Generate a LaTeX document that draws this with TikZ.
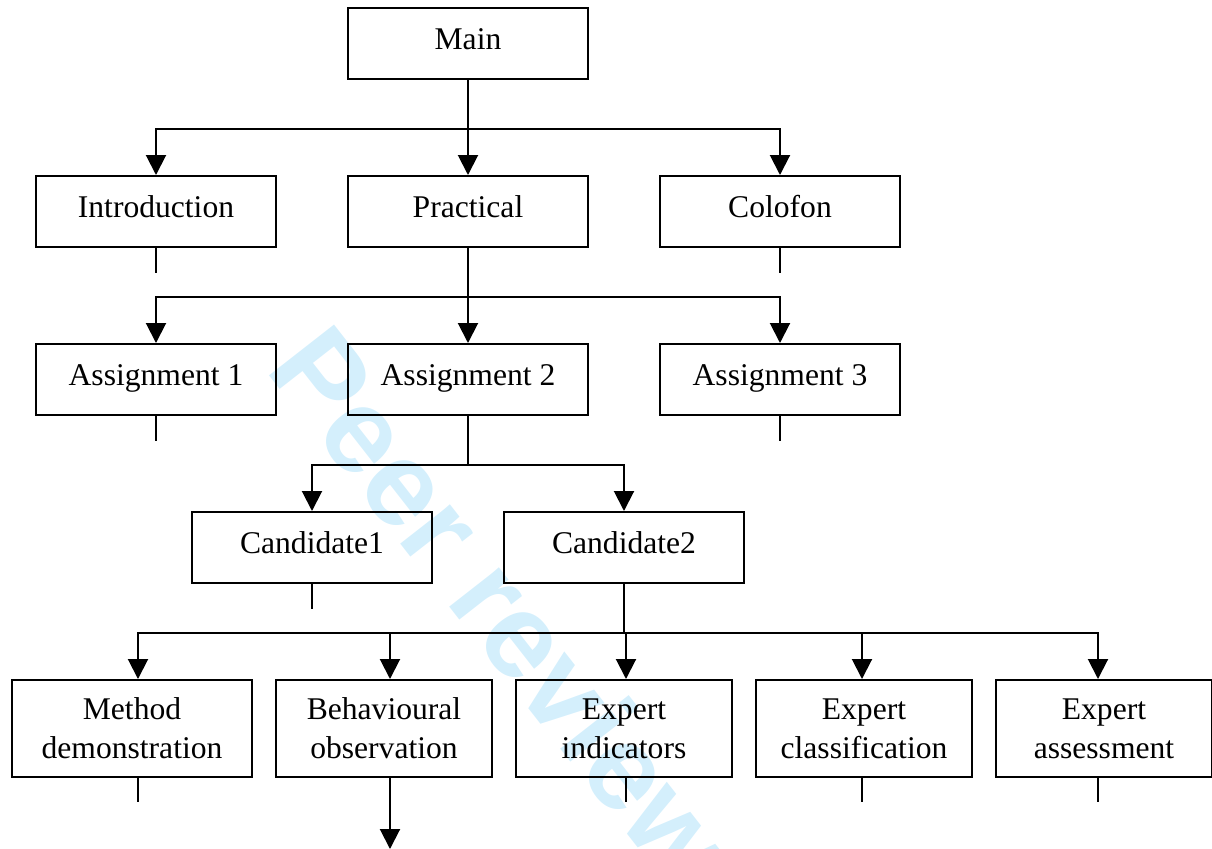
\documentclass[tikz,border=0pt]{standalone}
\usepackage{fontspec}
\setmainfont{Liberation Serif}
\newfontfamily\wmfont{Liberation Sans}
\usetikzlibrary{positioning,arrows.meta}

\definecolor{wmcyan}{RGB}{212,239,252}

\tikzset{
  box/.style={draw, line width=1pt, minimum width=120pt, minimum height=35.5pt,
    inner sep=0pt, text height=12pt, text depth=6pt,
    font=\fontsize{15.8pt}{19.5pt}\selectfont},
  leaf/.style={box, minimum width=108pt, minimum height=48.5pt, align=center,
    text height=30pt, text depth=0pt},
  link/.style={line width=1pt, -{Triangle[width=10pt,length=10pt]}},
  stub/.style={line width=1pt},
  wmark/.style={text=wmcyan, font=\wmfont\bfseries\fontsize{60pt}{60pt}\selectfont}
}

\begin{document}
\begin{tikzpicture}

    \useasboundingbox (0,0) rectangle (606pt,-424pt);

    % Watermark
    \node[wmark, rotate=-52, anchor=base west] (wm) at (130pt,-182pt) {Peer review};

    % Define nodes
    \node[box]                                   (main)  at (234pt,-21.75pt) {Main}; %
    \node[box, below=47.5pt of main]             (prac)  {Practical}; %
    \node[box, left=35pt of prac]                (intro) {Introduction}; %
    \node[box, right=35pt of prac]               (colo)  {Colofon}; %

    \node[box, below=47.5pt of prac]             (asg2)  {Assignment 2}; %
    \node[box, left=35pt of asg2]                (asg1)  {Assignment 1}; %
    \node[box, right=35pt of asg2]               (asg3)  {Assignment 3}; %

    \node[box, below=47.5pt of asg2, xshift=-78pt] (cand1) {Candidate1}; %
    \node[box, below=47.5pt of asg2, xshift=78pt]  (cand2) {Candidate2}; %

    % leaves
    \node[leaf, below=47.5pt of cand2]           (expind) {Expert\\indicators}; %
    \node[leaf, left=11pt of expind]             (behav)  {Behavioural\\observation}; %
    \node[leaf, left=11pt of behav, minimum width=120pt] (method) {Method\\demonstration}; %
    \node[leaf, right=11pt of expind]            (expcls) {Expert\\classification}; %
    \node[leaf, right=11pt of expcls]            (expass) {Expert\\assessment}; %
    \coordinate[below=35.5pt of behav.south]     (behav-out); %

    % Connect the nodes
    \foreach \n in {intro,prac,colo}
      \draw[link] (main.south) -- ++(0,-24.25pt) -| (\n.north);
    \foreach \n in {asg1,asg2,asg3}
      \draw[link] (prac.south) -- ++(0,-24.25pt) -| (\n.north);
    \foreach \n in {cand1,cand2}
      \draw[link] (asg2.south) -- ++(0,-24.25pt) -| (\n.north);
    \foreach \n/\dx in {method/3pt,behav/3pt,expind/1pt,expcls/-1pt,expass/-3pt}
      \draw[link] (cand2.south) -- ++(0,-24.25pt) -| ([xshift=\dx]\n.north);
    \draw[link] ([xshift=3pt]behav.south) -- ([xshift=3pt]behav-out);

    % Open ends
    \foreach \n in {intro,colo,asg1,asg3,cand1}
      \draw[stub] (\n.south) -- ++(0,-12.5pt);
    \foreach \n/\dx in {method/3pt,expind/1pt,expcls/-1pt,expass/-3pt}
      \draw[stub] ([xshift=\dx]\n.south) -- ++(0,-12pt);

  \end{tikzpicture}
\end{document}
